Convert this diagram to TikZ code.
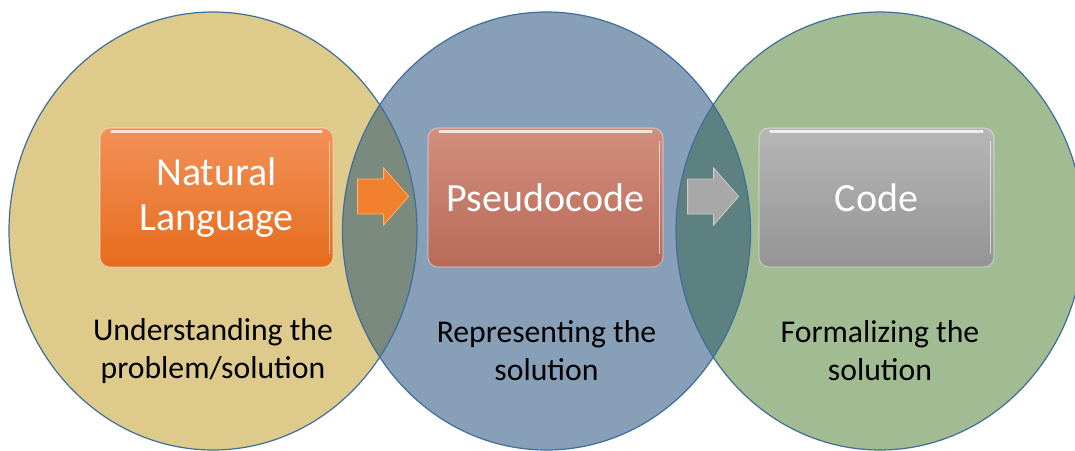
\documentclass[tikz,border=0pt]{standalone}
\usepackage{fontspec}
\setmainfont{Carlito}
\usetikzlibrary{calc}
\definecolor{fillA}{RGB}{222,202,139}
\definecolor{fillB}{RGB}{135,159,183}
\definecolor{fillC}{RGB}{161,187,146}
\definecolor{lensAB}{RGB}{123,138,126}
\definecolor{lensBC}{RGB}{93,129,129}
\definecolor{rim}{RGB}{62,110,156}
\definecolor{nlTop}{RGB}{242,145,88}
\definecolor{nlBot}{RGB}{230,108,28}
\definecolor{psTop}{RGB}{210,142,126}
\definecolor{psBot}{RGB}{184,106,88}
\definecolor{cdTop}{RGB}{182,182,182}
\definecolor{cdBot}{RGB}{148,148,148}
\definecolor{arrOrange}{RGB}{241,128,44}
\definecolor{arrGray}{RGB}{168,168,168}
\tikzset{
  venn/.style={draw=rim, line width=1.2pt},
  box/.style={rounded corners=10pt, minimum width=235pt, minimum height=139pt,
    inner sep=0pt, align=center, text=white,
    font=\fontsize{40}{45}\selectfont, draw=white, draw opacity=0.35, line width=1.2pt},
  caption/.style={align=center, text=black, font=\fontsize{31.7}{38}\selectfont},
  gloss/.style={white, line width=2.2pt, opacity=0.75, line cap=round},
  blockarrow/.style={line width=0.8pt, line join=miter},
}
\begin{document}
\begin{tikzpicture}[x=1pt,y=-1pt]
\useasboundingbox (0,0) rectangle (1075,450);
\clip (0,0) rectangle (1075,450);
% circles
\coordinate (cA) at (213,231);
\coordinate (cB) at (546.5,231);
\coordinate (cC) at (880,231);
\fill[fillA] (cA) ellipse [x radius=204pt, y radius=219pt];
\fill[fillB] (cB) ellipse [x radius=204pt, y radius=219pt];
\fill[fillC] (cC) ellipse [x radius=204pt, y radius=219pt];
\begin{scope}
  \clip (cA) ellipse [x radius=204pt, y radius=219pt];
  \fill[lensAB] (cB) ellipse [x radius=204pt, y radius=219pt];
\end{scope}
\begin{scope}
  \clip (cB) ellipse [x radius=204pt, y radius=219pt];
  \fill[lensBC] (cC) ellipse [x radius=204pt, y radius=219pt];
\end{scope}
\draw[venn] (cA) ellipse [x radius=204pt, y radius=219pt];
\draw[venn] (cB) ellipse [x radius=204pt, y radius=219pt];
\draw[venn] (cC) ellipse [x radius=204pt, y radius=219pt];
% boxes
\node[box, top color=nlTop, bottom color=nlBot, minimum width=233pt] (nl) at (216.5,197.5) {Natural\\Language};
\node[box, top color=psTop, bottom color=psBot] (ps) at (545.5,197.5) {Pseudocode};
\node[box, top color=cdTop, bottom color=cdBot] (cd) at (876.5,197.5) {Code};
\foreach \b in {nl,ps,cd}{
  \draw[gloss] ($(\b.north west)+(12,4)$) -- ($(\b.north east)+(-12,4)$);
  \draw[white, line width=1.4pt, opacity=0.6] ($(\b.north east)+(-4,14)$) -- ($(\b.south east)+(-4,-14)$);
}
% block arrows
\coordinate (a1) at ($(nl.east)+(24,-1)$);
\coordinate (a2) at ($(ps.east)+(24,-1)$);
\draw[blockarrow, fill=arrOrange, draw=orange!60!white] (a1) ++(0,-17.5) -- ++(26,0) -- ++(0,-11) -- ++(25,28.5) -- ++(-25,28.5) -- ++(0,-11) -- ++(-26,0) -- cycle;
\draw[blockarrow, fill=arrGray, draw=gray!40!white] (a2) ++(0,-17.5) -- ++(26,0) -- ++(0,-11) -- ++(25,28.5) -- ++(-25,28.5) -- ++(0,-11) -- ++(-26,0) -- cycle;
% captions
\node[caption] (tA) at (213,351) {Understanding the\\problem/solution};
\node[caption] (tB) at (546.5,351) {Representing the\\solution};
\node[caption] (tC) at (880,351) {Formalizing the\\solution};
\end{tikzpicture}
\end{document}
